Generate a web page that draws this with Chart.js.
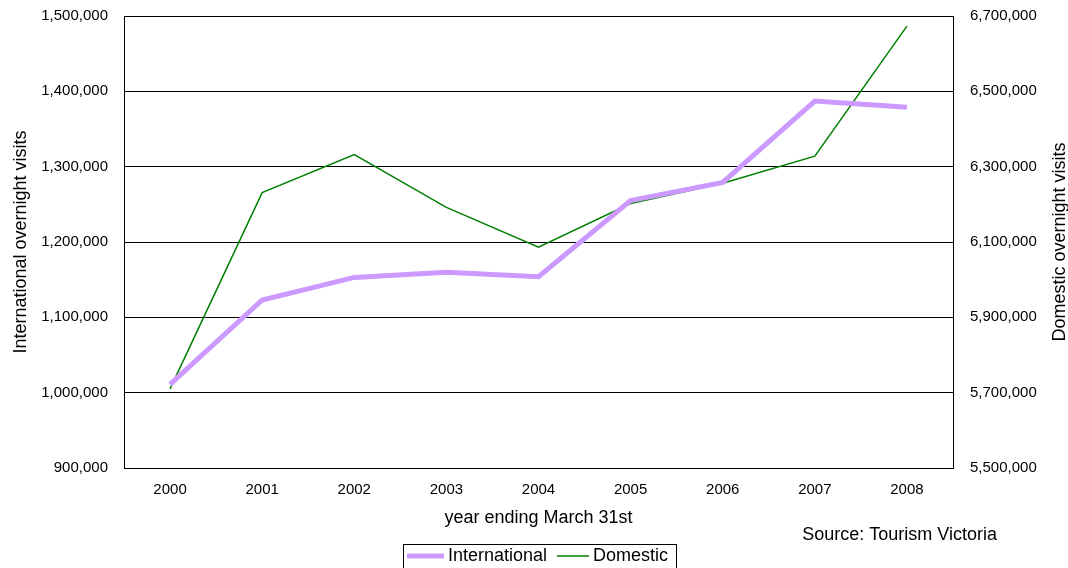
<!DOCTYPE html>
<html>
<head>
<meta charset="utf-8">
<title>Overnight visits</title>
<script src="https://cdn.jsdelivr.net/npm/chart.js@4.4.1/dist/chart.umd.min.js"></script>
<style>
    html, body { margin: 0; padding: 0; background: #fff; }
    #wrap { width: 1068px; height: 568px; }
</style>
</head>
<body>
<div id="wrap"><canvas id="visitsChart" width="1068" height="568"></canvas></div>
<script>
// Dados
const years = ['2000', '2001', '2002', '2003', '2004', '2005', '2006', '2007', '2008'];
const international = [1011000, 1123000, 1153000, 1160000, 1154000, 1255000, 1279000, 1387000, 1379000];
const domestic = [5710000, 6231000, 6332000, 6192000, 6086000, 6202000, 6256000, 6328000, 6673000];
const leftTicks = { min: 900000, max: 1500000, step: 100000 };
const rightTicks = { min: 5500000, max: 6700000, step: 200000 };

const FONT = 'Arial, "Liberation Sans", sans-serif';
const fmt = v => Number(v).toLocaleString('en-US');

// Largura fixa do eixo, sem folga extra em cima/embaixo
const fixWidth = w => s => {
    s.width = w;
    s.paddingTop = 0;
    s.paddingBottom = 0;
};

// Titulo do eixo direito, fonte e legenda com moldura
const extras = {
    id: 'extras',
    afterDraw(chart) {
        const ctx = chart.ctx;
        const area = chart.chartArea;
        ctx.save();
        ctx.fillStyle = '#000';
        ctx.font = '18px ' + FONT;

        // eixo direito (texto de baixo para cima)
        ctx.save();
        ctx.translate(1060, (area.top + area.bottom) / 2);
        ctx.rotate(-Math.PI / 2);
        ctx.textAlign = 'center';
        ctx.textBaseline = 'middle';
        ctx.fillText('Domestic overnight visits', 0, 0);
        ctx.restore();

        ctx.textAlign = 'right';
        ctx.textBaseline = 'middle';
        ctx.fillText('Source: Tourism Victoria', 997, 535);

        // legenda
        const sets = chart.data.datasets;
        const lineLen = [37, 32];
        let x = 407;
        const y = 556;
        ctx.textAlign = 'left';
        sets.forEach((ds, i) => {
            ctx.strokeStyle = ds.borderColor;
            ctx.lineWidth = ds.borderWidth;
            ctx.beginPath();
            ctx.moveTo(x, y);
            ctx.lineTo(x + lineLen[i], y);
            ctx.stroke();
            x += lineLen[i] + 4;
            ctx.fillText(ds.label, x, y);
            x += ctx.measureText(ds.label).width + 10;
        });
        ctx.strokeStyle = '#000';
        ctx.lineWidth = 1;
        ctx.strokeRect(403.5, 544.5, 273, 30);
        ctx.restore();
    }
};

new Chart(document.getElementById('visitsChart'), {
    type: 'line',
    data: {
        labels: years,
        datasets: [{
            label: 'International',
            data: international,
            yAxisID: 'y',
            borderColor: '#CC99FF',
            borderWidth: 5,
            pointRadius: 0,
            tension: 0
        }, {
            label: 'Domestic',
            data: domestic,
            yAxisID: 'y1',
            borderColor: '#008000',
            borderWidth: 1.5,
            pointRadius: 0,
            tension: 0
        }]
    },
    options: {
        responsive: false,
        animation: false,
        layout: { padding: { top: 16, left: 0, right: 0, bottom: 0 } },
        plugins: {
            legend: { display: false },
            tooltip: { enabled: false }
        },
        scales: {
            x: {
                offset: true,
                grid: { display: false, drawTicks: false },
                border: { display: true, color: '#000', width: 1 },
                ticks: { color: '#000', font: { family: FONT, size: 15 }, padding: 13, maxRotation: 0 },
                title: {
                    display: true,
                    text: 'year ending March 31st',
                    color: '#000',
                    font: { family: FONT, size: 18 },
                    padding: { top: 0, bottom: 39 }
                },
                afterFit: s => { s.height = 100; }
            },
            y: {
                position: 'left',
                min: leftTicks.min,
                max: leftTicks.max,
                grid: { color: '#000', drawTicks: false },
                border: { display: true, color: '#000', width: 1 },
                ticks: {
                    stepSize: leftTicks.step,
                    color: '#000',
                    font: { family: FONT, size: 15 },
                    padding: 16,
                    callback: v => fmt(v)
                },
                title: {
                    display: true,
                    text: 'International overnight visits',
                    color: '#000',
                    font: { family: FONT, size: 18 },
                    padding: { top: 10, bottom: 0 }
                },
                afterFit: fixWidth(124)
            },
            y1: {
                position: 'right',
                min: rightTicks.min,
                max: rightTicks.max,
                grid: { drawOnChartArea: false, drawTicks: false },
                border: { display: true, color: '#000', width: 1 },
                ticks: {
                    stepSize: rightTicks.step,
                    color: '#000',
                    font: { family: FONT, size: 15 },
                    padding: 17,
                    callback: v => fmt(v)
                },
                afterFit: fixWidth(115)
            }
        }
    },
    plugins: [extras]
});
</script>
</body>
</html>
